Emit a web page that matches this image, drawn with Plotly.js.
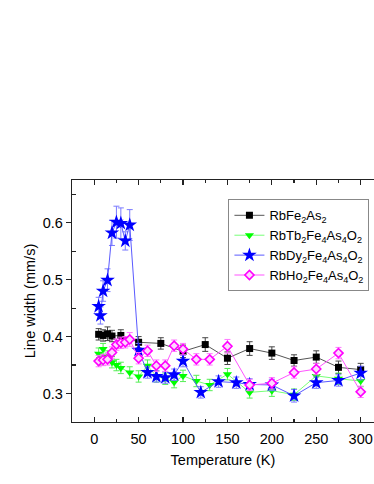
<!DOCTYPE html>
<html>
<head>
<meta charset="utf-8">
<script src="https://cdn.plot.ly/plotly-3.0.1.min.js"></script>
<style>
  html, body { margin: 0; padding: 0; background: #fff; }
  #chart { width: 374px; height: 484px; }
</style>
</head>
<body>
<div id="chart"></div>
<script>
// RbFe2As2
const tFe = [5, 10, 15, 20, 30, 50, 75, 100, 125, 150, 175, 200, 225, 250, 275, 300];
const wFe = [0.404, 0.402, 0.405, 0.401, 0.402, 0.390, 0.388, 0.374, 0.386, 0.362, 0.379, 0.371, 0.358, 0.364, 0.346, 0.342];
const eFe = [0.010, 0.010, 0.012, 0.010, 0.010, 0.010, 0.010, 0.011, 0.012, 0.011, 0.012, 0.011, 0.010, 0.011, 0.011, 0.011];

// RbTb2Fe4As4O2
const tTb = [5, 7, 10, 15, 20, 25, 30, 40, 50, 60, 70, 80, 90, 100, 115, 130, 150, 175, 200, 225, 250, 275, 300];
const wTb = [0.370, 0.360, 0.378, 0.365, 0.355, 0.350, 0.345, 0.337, 0.330, 0.349, 0.330, 0.326, 0.320, 0.331, 0.322, 0.315, 0.334, 0.302, 0.305, 0.298, 0.331, 0.326, 0.322];
const eTb = [0.010, 0.010, 0.010, 0.010, 0.010, 0.010, 0.010, 0.010, 0.010, 0.010, 0.010, 0.010, 0.010, 0.010, 0.010, 0.010, 0.010, 0.010, 0.010, 0.010, 0.010, 0.010, 0.010];

// RbDy2Fe4As4O2
const tDy = [5, 7, 10, 15, 20, 25, 30, 35, 40, 50, 60, 70, 80, 90, 100, 120, 140, 160, 175, 200, 225, 250, 275, 300];
const wDy = [0.453, 0.437, 0.480, 0.499, 0.582, 0.601, 0.599, 0.568, 0.596, 0.376, 0.337, 0.330, 0.328, 0.333, 0.357, 0.302, 0.321, 0.319, 0.316, 0.315, 0.296, 0.319, 0.323, 0.336];
const eDy = [0.016, 0.015, 0.018, 0.020, 0.022, 0.028, 0.027, 0.016, 0.027, 0.012, 0.010, 0.010, 0.010, 0.010, 0.010, 0.010, 0.010, 0.010, 0.010, 0.010, 0.011, 0.010, 0.010, 0.012];

// RbHo2Fe4As4O2
const tHo = [5, 10, 15, 20, 25, 30, 35, 40, 50, 60, 70, 80, 90, 100, 115, 130, 150, 175, 200, 225, 250, 275, 300];
const wHo = [0.357, 0.359, 0.360, 0.372, 0.386, 0.389, 0.390, 0.395, 0.362, 0.375, 0.349, 0.349, 0.384, 0.378, 0.360, 0.360, 0.383, 0.315, 0.318, 0.337, 0.343, 0.371, 0.303];
const eHo = [0.010, 0.010, 0.010, 0.010, 0.010, 0.010, 0.010, 0.012, 0.010, 0.010, 0.010, 0.010, 0.010, 0.010, 0.010, 0.010, 0.012, 0.010, 0.010, 0.010, 0.010, 0.010, 0.010];

const font = 'Liberation Sans, Arial, sans-serif';

function series(name, x, y, err, lineColor, errColor, marker) {
    return {
        x: x, y: y, name: name,
        type: 'scatter', mode: 'lines+markers',
        line: {color: lineColor, width: 1},
        marker: marker,
        error_y: {type: 'data', array: err, visible: true, color: errColor, thickness: 1, width: 3}
    };
}

const data = [
    series('RbFe<sub>2</sub>As<sub>2</sub>', tFe, wFe, eFe, '#555555', '#444444',
        {symbol: 'square', size: 7, color: '#000000'}),
    series('RbTb<sub>2</sub>Fe<sub>4</sub>As<sub>4</sub>O<sub>2</sub>', tTb, wTb, eTb, '#77ff77', '#55ee55',
        {symbol: 'triangle-down', size: 8, color: '#00ff00'}),
    series('RbDy<sub>2</sub>Fe<sub>4</sub>As<sub>4</sub>O<sub>2</sub>', tDy, wDy, eDy, '#5a5aff', '#7a7aff',
        {symbol: 'star', size: 11, color: '#0000ff'}),
    series('RbHo<sub>2</sub>Fe<sub>4</sub>As<sub>4</sub>O<sub>2</sub>', tHo, wHo, eHo, '#ff55ff', '#ff77ff',
        {symbol: 'diamond', size: 7, color: '#ffd6ff', line: {color: '#ff00ff', width: 1.6}}),
    // carries the top axis
    {x: [], y: [], xaxis: 'x2', type: 'scatter', showlegend: false, hoverinfo: 'skip'}
];

const layout = {
    width: 374,
    height: 484,
    margin: {l: 72, r: 0, t: 180, b: 62},
    paper_bgcolor: '#ffffff',
    plot_bgcolor: '#ffffff',
    font: {family: font, size: 14, color: '#000'},
    showlegend: true,
    legend: {
        x: 0.518, y: 0.92, xanchor: 'left', yanchor: 'top',
        bgcolor: '#ffffff', bordercolor: '#888888', borderwidth: 1,
        font: {family: font, size: 13, color: '#000'},
        tracegroupgap: 0
    },
    xaxis: {
        range: [-25, 315],
        tickvals: [0, 50, 100, 150, 200, 250, 300],
        ticks: 'inside', ticklen: 5, tickwidth: 1.2, tickcolor: '#222',
        minor: {tickvals: [25, 75, 125, 175, 225, 275], ticks: 'inside', ticklen: 3, tickwidth: 1.2, tickcolor: '#222'},
        showline: true, linecolor: '#222', linewidth: 1.3,
        showgrid: false, zeroline: false,
        ticklabelstandoff: 3,
        tickfont: {family: font, size: 14.5},
        title: {text: 'Temperature (K)', standoff: 9, font: {family: font, size: 14.5}}
    },
    xaxis2: {
        overlaying: 'x', side: 'top', matches: 'x',
        range: [-25, 315],
        tickvals: [0, 50, 100, 150, 200, 250, 300],
        ticks: 'inside', ticklen: 5, tickwidth: 1.2, tickcolor: '#222',
        minor: {tickvals: [25, 75, 125, 175, 225, 275], ticks: 'inside', ticklen: 3, tickwidth: 1.2, tickcolor: '#222'},
        showline: true, linecolor: '#222', linewidth: 1.3,
        showticklabels: false, showgrid: false, zeroline: false
    },
    yaxis: {
        range: [0.25, 0.675],
        tickvals: [0.3, 0.4, 0.5, 0.6],
        ticktext: ['0.3', '0.4', '0.5', '0.6'],
        ticks: 'outside', ticklen: 5, tickwidth: 1.2, tickcolor: '#222',
        minor: {tickvals: [0.35, 0.45, 0.55, 0.65], ticks: 'inside', ticklen: 4, tickwidth: 1.2, tickcolor: '#222'},
        showline: true, linecolor: '#222', linewidth: 1.3,
        showgrid: false, zeroline: false,
        ticklabelstandoff: 0,
        tickfont: {family: font, size: 14.5},
        title: {text: 'Line width (mm/s)', standoff: 3, font: {family: font, size: 14.5}}
    }
};

Plotly.newPlot('chart', data, layout, {displayModeBar: false, staticPlot: true});
</script>
</body>
</html>
